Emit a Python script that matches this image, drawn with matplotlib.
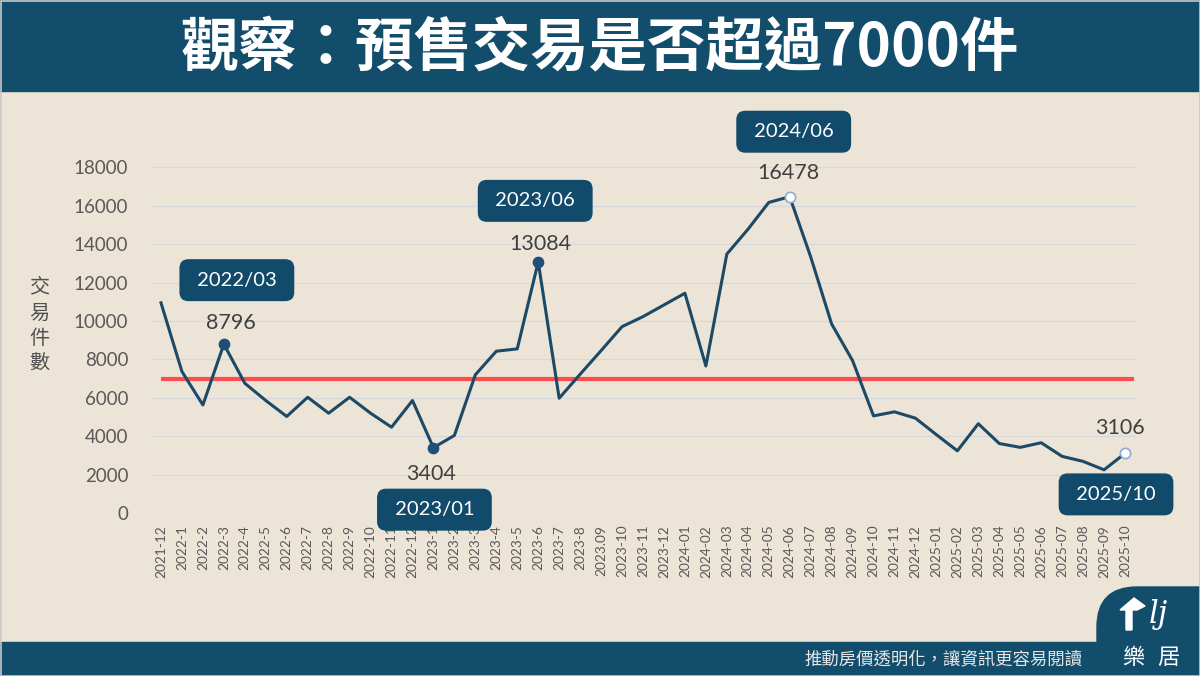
import matplotlib
matplotlib.use('Agg')
import matplotlib.pyplot as plt
from matplotlib.patches import Rectangle, FancyBboxPatch, Polygon

plt.rcParams['font.family'] = ['Lato', 'Noto Sans CJK TC', 'DejaVu Sans']

# data
months = ['2021-12',
          '2022-1', '2022-2', '2022-3', '2022-4', '2022-5', '2022-6',
          '2022-7', '2022-8', '2022-9', '2022-10', '2022-11', '2022-12',
          '2023-1', '2023-2', '2023-3', '2023-4', '2023-5', '2023-6',
          '2023-7', '2023-8', '2023.09', '2023-10', '2023-11', '2023-12',
          '2024-01', '2024-02', '2024-03', '2024-04', '2024-05', '2024-06',
          '2024-07', '2024-08', '2024-09', '2024-10', '2024-11', '2024-12',
          '2025-01', '2025-02', '2025-03', '2025-04', '2025-05', '2025-06',
          '2025-07', '2025-08', '2025-09', '2025-10']
counts = [10950,
          7370, 5630, 8796, 6760, 5860, 5030,
          6030, 5200, 6030, 5200, 4470, 5860,
          3404, 4040, 7200, 8430, 8550, 13084,
          5980, 7230, 8460, 9710, 10230, 10840,
          11450, 7660, 13490, 14770, 16180, 16478,
          13350, 9850, 7940, 5060, 5270, 4940,
          4080, 3240, 4650, 3620, 3420, 3660,
          2950, 2690, 2250, 3106]
threshold = 7000
y_ticks = [0, 2000, 4000, 6000, 8000, 10000, 12000, 14000, 16000, 18000]

callout_months = ['2022-3', '2023-1', '2023-6', '2024-06', '2025-10']
callout_names = ['2022/03', '2023/01', '2023/06', '2024/06', '2025/10']
filled_marks = ['2022-3', '2023-1', '2023-6']
hollow_marks = ['2024-06', '2025-10']

title = '觀察：預售交易是否超過7000件'
ylabel = '交易件數'
footer = '推動房價透明化，讓資訊更容易閱讀'

# colours
bg = '#ECE4D6'
navy = '#124D6C'
line_c = '#1C4A66'

# offsets (pixels) of the box and the value label from each callout point
box_off = [(13, 64), (1, -62), (-3, 61), (4, 65), (-9, -41)]
val_off = [(7, 21), (-2, -26), (2, 18), (-1, 24), (-5, 25)]

fig = plt.figure(figsize=(12, 6.76), dpi=100, facecolor=bg)

# title bar / footer bar / logo tab, in inch coordinates
inch = fig.dpi_scale_trans
fig.patches.append(Rectangle((0, 5.85), 12, 0.91, transform=inch, color=navy, zorder=0))
fig.patches.append(Rectangle((0, 0), 12, 0.34, transform=inch, color=navy, zorder=0))
fig.patches.append(FancyBboxPatch((10.97, -0.4), 1.6, 1.29, transform=inch,
                                  boxstyle='round,pad=0,rounding_size=0.4',
                                  color=navy, zorder=0))
fig.patches.append(Rectangle((0.005, 0.005), 11.99, 6.75, transform=inch,
                             fill=False, edgecolor='#C8C8C8', lw=1.2, zorder=5))

fig.text(0.5, 1 - 48 / 676, title, color='white', fontsize=42, fontweight='bold',
         ha='center', va='center', family=['Noto Sans CJK TC', 'DejaVu Sans'])
fig.text(1082 / 1200, 1 - 659 / 676, footer, color='#E6E6E6', fontsize=12.5,
         ha='right', va='center', family=['Noto Sans CJK TC', 'DejaVu Sans'])

# logo: little house arrow + "lj" + 樂居
house = Polygon([(11.26, 0.46), (11.26, 0.66), (11.20, 0.66), (11.34, 0.78),
                 (11.45, 0.70), (11.37, 0.66), (11.32, 0.66), (11.32, 0.46)],
                closed=True, transform=inch, color='white', zorder=3)
fig.patches.append(house)
fig.text(11.58 / 12, 0.61 / 6.76, 'lj', color='white', fontsize=22, style='italic',
         ha='center', va='center', family='DejaVu Serif')
fig.text(11.33 / 12, 1 - 657 / 676, '樂', color='white', fontsize=16,
         ha='center', va='center', family=['Noto Sans CJK TC'])
fig.text(11.68 / 12, 1 - 657 / 676, '居', color='white', fontsize=16,
         ha='center', va='center', family=['Noto Sans CJK TC'])

# y label, stacked characters
fig.text(39 / 1200, 1 - 326 / 676, '\n'.join(ylabel), color='#505050', fontsize=14.5,
         ha='center', va='center', linespacing=1.3,
         family=['Noto Sans CJK TC', 'DejaVu Sans'])

ax = fig.add_axes([150.5 / 1200, 163 / 676, 985 / 1200, 345.5 / 676])
ax.set_facecolor('none')
x = list(range(len(months)))

ax.set_xlim(-0.5, len(months) - 0.5)
ax.set_ylim(0, 18000)
ax.set_yticks(y_ticks)
ax.set_yticklabels([str(v) for v in y_ticks])
ax.set_xticks(x)
ax.set_xticklabels(months, rotation=90)
ax.tick_params(axis='y', length=0, pad=16, labelsize=13.5, labelcolor='#595959')
ax.tick_params(axis='x', length=0, pad=8.5, labelsize=9.8, labelcolor='#595959')
for s in ax.spines.values():
    s.set_visible(False)
ax.grid(axis='y', color='#D6D9DD', lw=0.9)
ax.set_axisbelow(True)

ax.hlines(threshold, 0, len(months) - 0.55, color='#FF4D4D', lw=3, zorder=2)
ax.plot(x, counts, color=line_c, lw=2.2, zorder=3)

fi = [months.index(m) for m in filled_marks]
ax.scatter(fi, [counts[i] for i in fi], s=55, color='#1F4E79', zorder=4)
hi = [months.index(m) for m in hollow_marks]
ax.scatter(hi, [counts[i] for i in hi], s=55, facecolor='white',
           edgecolor='#8EA9D6', lw=1.2, zorder=4)

for m, name, bo, vo in zip(callout_months, callout_names, box_off, val_off):
    i = months.index(m)
    ax.annotate(f'{counts[i]}', (i, counts[i]), xytext=vo, textcoords='offset pixels',
                ha='center', va='center', fontsize=15.5, color='#404040',
                annotation_clip=False, zorder=6)
    ax.annotate(f' {name} ', (i, counts[i]), xytext=bo, textcoords='offset pixels',
                ha='center', va='center', fontsize=14.5, color='white',
                annotation_clip=False, zorder=7,
                bbox=dict(boxstyle='round,pad=0.62,rounding_size=0.45',
                          fc='#114A6A', ec='none'))

fig.savefig('out.png', dpi=100, facecolor=bg)
